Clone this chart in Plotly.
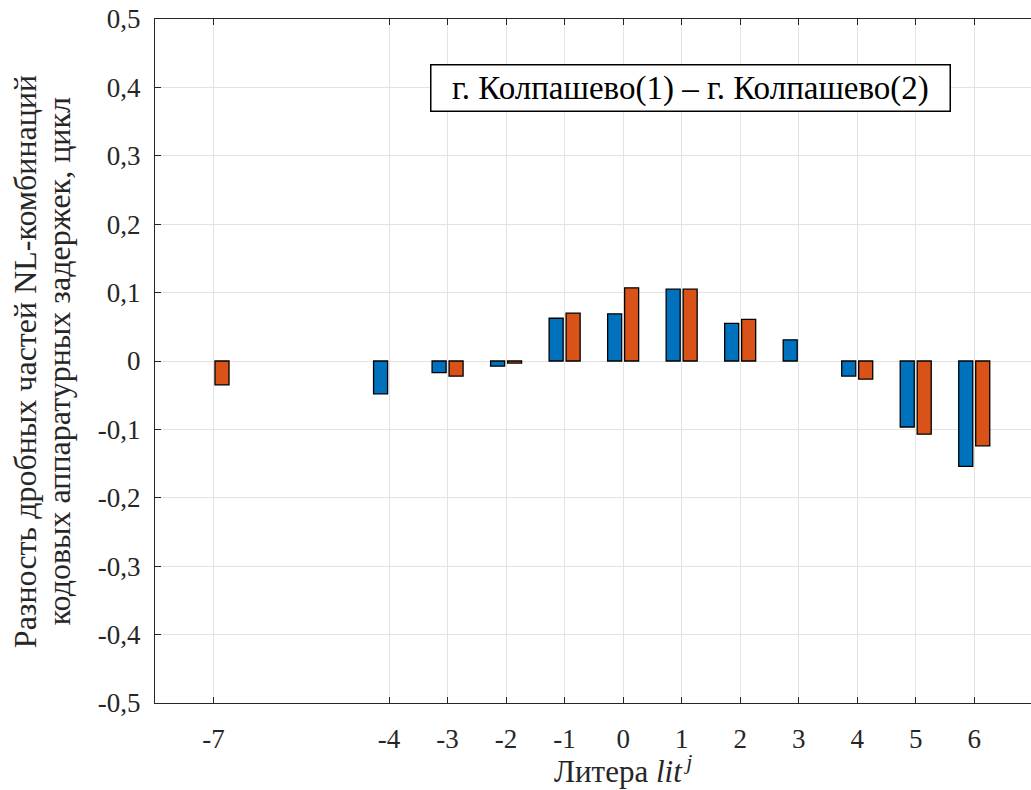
import plotly.graph_objects as go

# Data
liters = [-7, -4, -3, -2, -1, 0, 1, 2, 3, 4, 5, 6]
series1 = [None, -0.048, -0.017, -0.0075, 0.0625, 0.069, 0.105, 0.055, 0.031, -0.022, -0.0965, -0.154]
series2 = [-0.035, None, -0.022, -0.003, 0.070, 0.107, 0.105, 0.061, None, -0.0265, -0.107, -0.124]
xtick_labels = ["-7", "-4", "-3", "-2", "-1", "0", "1", "2", "3", "4", "5", "6"]
ytick_vals = [-0.5, -0.4, -0.3, -0.2, -0.1, 0, 0.1, 0.2, 0.3, 0.4, 0.5]
ytick_labels = ["-0,5", "-0,4", "-0,3", "-0,2", "-0,1", "0", "0,1", "0,2", "0,3", "0,4", "0,5"]
box_text = "г. Колпашево(1) – г. Колпашево(2)"
ytitle_lines = ["Разность дробных частей NL-комбинаций", "кодовых аппаратурных задержек, цикл"]

FONT = "Liberation Serif"
BLUE = "#0072BD"
ORANGE = "#D95319"
AX = "#262626"
GRID = "#e3e3e3"

fig = go.Figure()
fig.add_trace(go.Bar(x=liters, y=series1, width=0.24, offset=-0.265,
                     marker=dict(color=BLUE, line=dict(color="black", width=1.3)),
                     showlegend=False))
fig.add_trace(go.Bar(x=liters, y=series2, width=0.24, offset=0.025,
                     marker=dict(color=ORANGE, line=dict(color="black", width=1.3)),
                     showlegend=False))
# invisible trace for top axis
fig.add_trace(go.Scatter(x=[liters[0]], y=[0], xaxis="x2", mode="markers",
                         marker=dict(opacity=0), showlegend=False, hoverinfo="skip"))

xr = [-8, 6.97]
fig.update_layout(
    width=1031, height=790,
    margin=dict(l=155, r=0, t=19, b=87, autoexpand=False),
    paper_bgcolor="white", plot_bgcolor="white",
    font=dict(family=FONT, size=27, color=AX),
    barmode="overlay",
    xaxis=dict(range=xr, tickmode="array", tickvals=liters, ticktext=xtick_labels,
               showgrid=True, gridcolor=GRID, gridwidth=1, zeroline=False,
               showline=True, linecolor=AX, linewidth=1.2, automargin=False,
               ticks="inside", ticklen=6, tickcolor=AX, tickwidth=1.2,
               ticklabelstandoff=11, tickfont=dict(size=27, color=AX, family=FONT)),
    xaxis2=dict(range=xr, overlaying="x", side="top", tickmode="array", tickvals=liters,
                showticklabels=False, showgrid=False, zeroline=False, automargin=False,
                showline=True, linecolor=AX, linewidth=1.2,
                ticks="inside", ticklen=6, tickcolor=AX, tickwidth=1.2),
    yaxis=dict(range=[-0.5, 0.5], tickmode="array", tickvals=ytick_vals, ticktext=ytick_labels,
               showgrid=True, gridcolor=GRID, gridwidth=1, zeroline=False,
               showline=True, linecolor=AX, linewidth=1.2, automargin=False,
               ticks="inside", ticklen=6, tickcolor=AX, tickwidth=1.2,
               ticklabeloverflow="allow",
               ticklabelstandoff=8, tickfont=dict(size=27, color=AX, family=FONT)),
)

# Text box
fig.add_annotation(x=1.15, y=0.399, xref="x", yref="y",
                   text="&nbsp;&nbsp;" + box_text + "&nbsp;&nbsp;", showarrow=False,
                   font=dict(family=FONT, size=33, color="black"),
                   bgcolor="white", bordercolor="black", borderwidth=1.5, borderpad=4)

# Y axis title (two lines)
fig.add_annotation(x=-0.149, y=0.499, xref="paper", yref="paper", text=ytitle_lines[0],
                   textangle=-90, showarrow=False, xanchor="center", yanchor="middle",
                   font=dict(family=FONT, size=32, color=AX))
fig.add_annotation(x=-0.110, y=0.499, xref="paper", yref="paper", text=ytitle_lines[1],
                   textangle=-90, showarrow=False, xanchor="center", yanchor="middle",
                   font=dict(family=FONT, size=32, color=AX))

# X axis title
fig.add_annotation(x=0, y=-0.0965, xref="x", yref="paper",
                   text="Литера <i>lit</i><sup>&#8201;<i>j</i></sup>", showarrow=False,
                   xanchor="center", yanchor="middle",
                   font=dict(family=FONT, size=31, color=AX))

fig.write_html("out.html", config={"displayModeBar": False},
               post_script="document.body.style.margin='0';")
